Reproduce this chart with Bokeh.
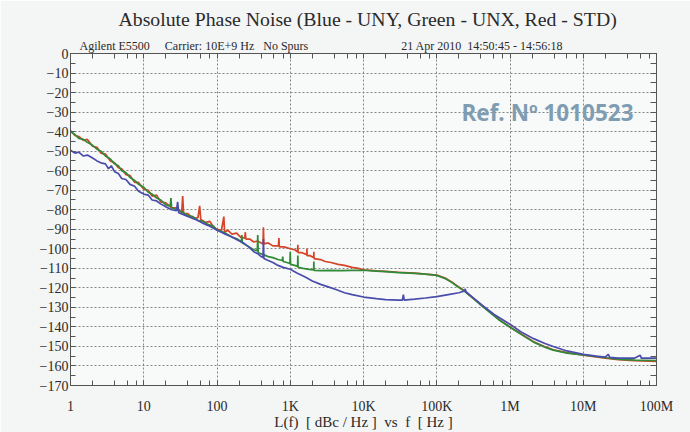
from bokeh.plotting import figure
from bokeh.models import Range1d, FixedTicker, LogAxis, LinearAxis, Label, Title
from bokeh.embed import file_html
from bokeh.resources import INLINE

# ---------------- data ----------------
decade_ticks = [1, 10, 100, 1000, 10000, 100000, 1000000, 10000000, 100000000]
decade_labels = ["1", "10", "100", "1K", "10K", "100K", "1M", "10M", "100M"]
db_ticks = list(range(-170, 1, 10))

# Red - STD
std_f = [1, 1.15, 1.3, 1.5, 1.7, 2, 2.3, 2.6, 3, 3.5, 4, 4.5, 5, 5.7, 6.5, 7.5, 8.5, 10,
         11.5, 13, 15, 17, 20, 24, 28, 33, 34, 35, 40, 47, 55, 58, 60, 70, 80, 90, 100,
         115, 124, 127, 140, 160, 185, 210, 240, 243, 248, 280, 318, 360, 425, 430, 436,
         500, 580, 690, 700, 710, 820, 1000, 1150, 1260, 1270, 1280, 1450, 1680, 1690,
         1700, 1850, 2090, 2100, 2110, 2600, 3000, 3600, 4500, 5500, 7000, 8500, 10000,
         15000, 20000, 30000, 50000, 70000, 100000, 130000, 160000, 190000, 240000,
         310000, 400000, 540000, 700000, 1e6, 1.4e6, 2.1e6, 3e6, 3.9e6, 6e6, 1e7, 2e7,
         3e7, 5e7, 1e8]
std_db = [-39.5, -42, -42.5, -44.5, -44, -47.5, -48, -51, -51.5, -55, -56, -58.5, -59,
          -62, -62.5, -66, -66, -69.5, -70, -73, -72.5, -76, -76.5, -79, -79, -81.5, -73,
          -82, -82, -84.5, -84, -78, -85, -86.5, -86, -89, -90, -90.5, -83.5, -91.5,
          -90.5, -92.5, -92, -94, -94.5, -91.5, -95, -95, -96.5, -96, -97.5, -89, -97.5,
          -97, -98.5, -98.5, -94.5, -99, -99, -100, -100.5, -101.5, -98, -102, -102,
          -103, -100, -103.5, -103.5, -104.5, -101.5, -105, -105.5, -106.5, -107, -108,
          -108.5, -109.5, -110, -110.8, -111.3, -111.6, -112, -112.5, -113, -113.5,
          -115, -117, -119, -121.5, -125, -128.5, -132.5, -136, -140, -143.5, -147.6,
          -150.2, -151.7, -153.2, -154.5, -156, -156.8, -157.3, -157.6]

# Green - UNX
unx_f = [1, 1.15, 1.3, 1.5, 1.7, 2, 2.3, 2.6, 3, 3.5, 4, 4.5, 5, 5.7, 6.5, 7.5, 8.5, 10,
         11.5, 13, 15, 17, 20, 23, 23.5, 24, 28, 33, 40, 47, 55, 65, 75, 90, 100, 115,
         130, 160, 190, 215, 218, 222, 260, 318, 355, 360, 365, 430, 500, 580, 680, 780,
         790, 800, 900, 990, 1000, 1010, 1150, 1260, 1270, 1280, 1500, 1800, 2090, 2100,
         2110, 2600, 3500, 5000, 7000, 10000, 15000, 20000, 30000, 50000, 70000, 100000,
         130000, 160000, 190000, 240000, 310000, 400000, 540000, 700000, 1e6, 1.4e6,
         2.1e6, 3e6, 3.9e6, 6e6, 1e7, 2e7, 3e7, 5e7, 1e8]
unx_db = [-40, -41.5, -43.5, -44, -45.5, -47, -49, -50, -52.5, -54, -56.5, -57.5, -60,
          -61, -63.5, -65, -67, -68.5, -71, -72, -74, -75, -77.5, -78, -74, -79, -80,
          -81, -83, -83.5, -85.5, -86, -87.5, -88.5, -90.5, -91, -92, -94, -95, -96.5,
          -93, -97, -98.5, -100.5, -101, -93, -102, -103, -104, -104.5, -105.5, -106,
          -104, -106.5, -107, -107.5, -101.5, -108, -108.5, -109, -103.5, -109.5, -110,
          -110.5, -110.8, -106.5, -111, -111.2, -111, -111.2, -111, -111, -111.4,
          -111.7, -112.2, -112.6, -113, -113.6, -115.2, -117.2, -119.2, -121.8, -125.3,
          -128.8, -132.8, -136.3, -140.2, -143.7, -147.8, -150.4, -151.9, -153.4, -154.3,
          -155.8, -156.5, -157, -157.2]

# Blue - UNY
uny_f = [1, 1.15, 1.3, 1.5, 1.7, 2, 2.3, 2.6, 3, 3.3, 3.6, 4, 4.5, 5, 5.7, 6.5, 7.5, 8.5,
         10, 11.5, 13, 15, 17, 20, 24, 28, 29, 30, 35, 40, 47, 55, 65, 75, 90, 100, 115,
         130, 160, 190, 230, 270, 318, 360, 400, 425, 430, 437, 500, 580, 680, 800, 1000,
         1250, 1600, 2000, 2600, 3300, 4300, 5500, 7000, 10000, 15000, 20000, 30000,
         34000, 35000, 36000, 50000, 70000, 100000, 150000, 200000, 240000, 245000,
         250000, 300000, 420000, 600000, 1e6, 1.4e6, 2.1e6, 3e6, 3.9e6, 6e6, 1e7, 1.5e7,
         2e7, 2.2e7, 2.3e7, 3e7, 5e7, 6e7, 6.2e7, 1e8]
uny_db = [-49.5, -51, -50.5, -52.5, -52, -53.5, -55, -56, -56.5, -59, -57.5, -60.5,
          -61.5, -64, -64.5, -67, -68, -70.5, -72, -72.5, -75, -75.5, -77, -78.5, -80,
          -80.5, -76, -81.5, -82.5, -83.5, -84.5, -85.5, -87, -88, -89.5, -90.5, -91.5,
          -92.5, -94, -95.5, -97, -99, -101.5, -102.5, -104, -104.5, -95, -105, -106,
          -107, -108.5, -109.5, -110.5, -112.5, -114.5, -116.5, -118.2, -119.5, -121,
          -122.5, -123.5, -124.7, -125.5, -126, -126.3, -126.3, -123.5, -126.3, -125.8,
          -125.2, -124.5, -123.3, -122.5, -121.6, -120.5, -122, -124.5, -129, -133.5,
          -138.6, -142.5, -146, -148.5, -150, -152.3, -154, -155, -155.5, -154, -155.6,
          -156, -156, -154.5, -156, -156]

title_text = "Absolute Phase Noise (Blue - UNY, Green - UNX, Red - STD)"
NB = "\u00a0"
sub_text = ("Agilent E5500" + NB * 5 + "Carrier: 10E+9 Hz" + NB * 3 + "No Spurs" + NB * 31
            + "21 Apr 2010" + NB * 2 + "14:50:45 - 14:56:18")
axis_title = "L(f)" + NB * 2 + "[ dBc / Hz ]" + NB * 2 + "vs" + NB * 2 + "f" + NB * 2 + "[ Hz ]"
ref_text = "Ref. Nº 1010523"

# ---------------- figure ----------------
FONT = "Liberation Serif"
INK = "#2a2a2a"
AX = "#555555"

p = figure(width=690, height=432, x_axis_type="log",
           x_range=Range1d(1, 1e8), y_range=Range1d(-170, 0),
           output_backend="svg", toolbar_location=None,
           min_border_left=70, min_border_right=34, min_border_top=0,
           min_border_bottom=47,
           background_fill_color="#f8f9f9", border_fill_color="#f4f5f5")
p.outline_line_color = AX

minor_x = [m * 10 ** k for k in range(8) for m in (2, 4, 6, 8)]

xa = p.xaxis[0]
xa.ticker = FixedTicker(ticks=decade_ticks, minor_ticks=minor_x)
xa.major_label_overrides = dict(zip(decade_ticks, decade_labels))
xa.major_tick_in = 5
xa.major_tick_out = 0
xa.minor_tick_in = 5
xa.minor_tick_out = 0
xa.major_label_standoff = 13
xa.major_label_text_font = FONT
xa.major_label_text_font_size = "14px"
xa.major_label_text_color = INK
xa.axis_line_color = AX
xa.major_tick_line_color = AX
xa.minor_tick_line_color = AX
xa.axis_label = axis_title
xa.axis_label_standoff = -3
xa.axis_label_text_font = FONT
xa.axis_label_text_font_size = "15px"
xa.axis_label_text_font_style = "normal"
xa.axis_label_text_color = INK

ya = p.yaxis[0]
ya.ticker = FixedTicker(ticks=db_ticks, minor_ticks=list(range(-165, 0, 10)))
ya.major_tick_in = 5
ya.major_tick_out = 0
ya.minor_tick_in = 5
ya.minor_tick_out = 0
ya.major_label_standoff = 2
ya.major_label_text_font = FONT
ya.major_label_text_font_size = "14px"
ya.major_label_text_color = INK
ya.axis_line_color = AX
ya.major_tick_line_color = AX
ya.minor_tick_line_color = AX

top = LogAxis(ticker=FixedTicker(ticks=decade_ticks, minor_ticks=minor_x),
              major_label_text_font_size="2px", major_label_text_alpha=0,
              major_label_standoff=0,
              major_tick_in=5, major_tick_out=0,
              minor_tick_in=5, minor_tick_out=0, axis_line_color=AX,
              major_tick_line_color=AX, minor_tick_line_color=AX)
right = LinearAxis(ticker=FixedTicker(ticks=list(range(-170, 1, 5))),
                   major_label_text_font_size="2px", major_label_text_alpha=0,
                   major_label_standoff=0,
                   major_tick_in=6, major_tick_out=0,
                   minor_tick_line_color=None, axis_line_color=AX,
                   major_tick_line_color=AX)
p.add_layout(right, "right")

sub = Title(text=sub_text, align="left", offset=9, standoff=2,
            text_font=FONT, text_font_size="12px", text_font_style="normal",
            text_color=INK)
p.title.text = title_text
p.title.align = "left"
p.title.offset = 48
p.title.standoff = 11
p.title.text_font = FONT
p.title.text_font_size = "19.75px"
p.title.text_font_style = "normal"
p.title.text_color = INK
p.above = [top, sub]

p.xgrid.grid_line_color = "#858585"
p.xgrid.grid_line_dash = "2 2"
p.ygrid.grid_line_color = "#858585"
p.ygrid.grid_line_dash = "2 2"

p.line(std_f, std_db, line_color="#d4452a", line_width=1.7)
p.line(unx_f, unx_db, line_color="#2f8a38", line_width=1.7)
p.line(uny_f, uny_db, line_color="#4a4cac", line_width=1.7)

p.add_layout(Label(x=217800, y=-30.2, text=ref_text, text_font="Open Sans",
                   text_font_style="bold", text_font_size="22.5px",
                   text_color="#7f9db2", text_baseline="middle"))

open("out.html", "w").write(file_html(p, INLINE))
